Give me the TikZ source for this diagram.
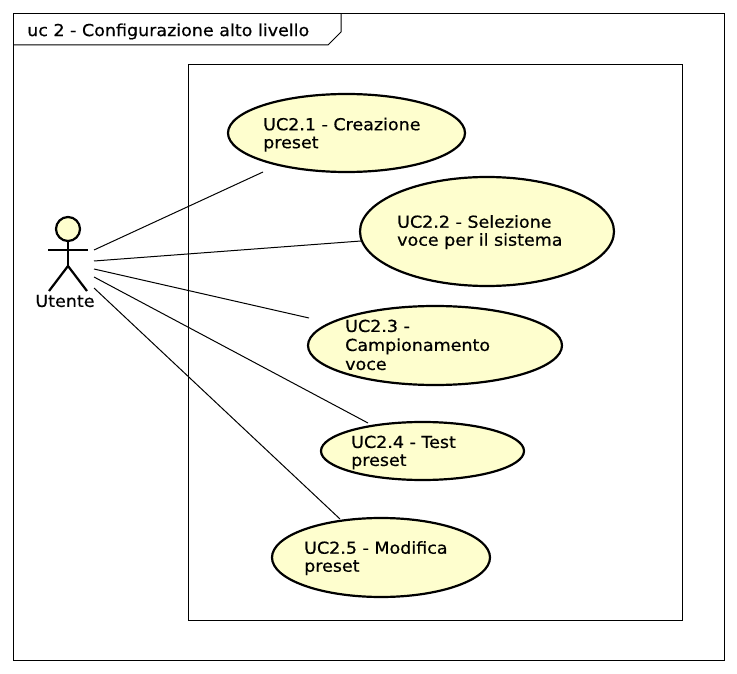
\documentclass[tikz,border=0pt]{standalone}
\usepackage{fontspec}
\setmainfont{DejaVu Sans}[FakeStretch=1.06,FakeBold=0.5]
\usetikzlibrary{shapes.geometric}
\definecolor{usefill}{RGB}{254,254,206}
\tikzset{
  usecase/.style={draw,ellipse,fill=usefill,line width=2.2pt,inner sep=0pt},
  usetext/.style={anchor=north west,align=left,inner sep=0pt,font=\fontsize{16.5}{18}\selectfont},
  link/.style={line width=1pt},
  stick/.style={line width=2.2pt}
}
\begin{document}
\begin{tikzpicture}[x=1pt,y=-1pt]
  \useasboundingbox (0,0) rectangle (737,674);
  \draw[link] (13.5,13.5) rectangle (724,660); %Draw outer frame
  \draw[link] (13.5,45) -- (328,45) -- (341,32) -- (341,13.5); %Draw frame tab
  \node[usetext,anchor=west] (title) at (27,31.5) {uc 2 - Configurazione alto livello}; %Frame title
  \draw[link] (188,64.5) rectangle (682,620); %Draw system box

  \node[usecase,minimum width=237pt,minimum height=78pt] (uca) at (346.5,133) {}; %Use case 1
  \node[usecase,minimum width=254pt,minimum height=109pt] (ucb) at (487,231.5) {}; %Use case 2
  \node[usecase,minimum width=254pt,minimum height=79pt] (ucc) at (435,345.5) {}; %Use case 3
  \node[usecase,minimum width=203pt,minimum height=58pt] (ucd) at (422.5,451) {}; %Use case 4
  \node[usecase,minimum width=218pt,minimum height=79pt] (uce) at (381,557.5) {}; %Use case 5

  \node[usetext] (texta) at (263,117.5) {UC2.1 - Creazione\\preset};
  \node[usetext] (textb) at (397,215) {UC2.2 - Selezione\\voce per il sistema};
  \node[usetext,font=\fontsize{16.5}{19}\selectfont] (textc) at (345,319.5) {UC2.3 -\\Campionamento\\voce};
  \node[usetext] (textd) at (351,435.5) {UC2.4 - Test\\preset};
  \node[usetext] (texte) at (304,541) {UC2.5 - Modifica\\preset};

  \node[circle,draw,fill=usefill,line width=2.2pt,minimum size=24pt,inner sep=0pt] (head) at (68,229) {}; %Actor head
  \coordinate (armleft) at (48,250);
  \coordinate (armright) at (88,250);
  \coordinate (hip) at (68,266);
  \coordinate (legleft) at (49,291);
  \coordinate (legright) at (87,291);
  \draw[stick] (head) -- (hip); %Draw body
  \draw[stick] (armleft) -- (armright); %Draw arms
  \draw[stick] (legleft) -- (hip) -- (legright); %Draw legs
  \node[usetext,anchor=center] (actor) at (65,301) {Utente};

  \coordinate (froma) at (94,250);
  \coordinate (fromb) at (94,261);
  \coordinate (fromc) at (94,269);
  \coordinate (fromd) at (94,277);
  \coordinate (frome) at (94,288);
  \coordinate (toa) at (263,172);
  \coordinate (tob) at (361,241);
  \coordinate (toc) at (309,318);
  \coordinate (tod) at (368,423);
  \coordinate (toe) at (340,519);
  \draw[link] (froma) -- (toa); %Draw link 1
  \draw[link] (fromb) -- (tob); %Draw link 2
  \draw[link] (fromc) -- (toc); %Draw link 3
  \draw[link] (fromd) -- (tod); %Draw link 4
  \draw[link] (frome) -- (toe); %Draw link 5
\end{tikzpicture}
\end{document}
